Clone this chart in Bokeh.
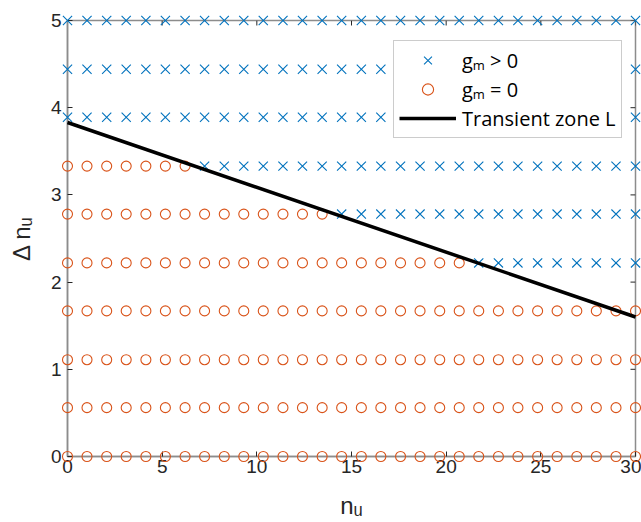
import math
from bokeh.plotting import figure
from bokeh.models import Range1d, Legend, LegendItem, FixedTicker, ColumnDataSource
from bokeh.embed import file_html
from bokeh.resources import INLINE

# grid of n_u values (30 points from 0 to 30)
n_u = [0.0, 1.03, 2.07, 3.10, 4.14, 5.17, 6.21, 7.24, 8.28, 9.31, 10.34, 11.38,
       12.41, 13.45, 14.48, 15.52, 16.55, 17.59, 18.62, 19.66, 20.69, 21.72,
       22.76, 23.79, 24.83, 25.86, 26.90, 27.93, 28.97, 30.0]
# grid of delta n_u values
delta_n_u = [0.0, 0.56, 1.11, 1.67, 2.22, 2.78, 3.33, 3.89, 4.44, 5.0]
# number of points with g_m = 0 in each row (counted from the left)
zero_count_per_row = [30, 30, 30, 30, 21, 14, 7, 0, 0, 0]
# transient zone L line
transient_x = [0, 30]
transient_y = [3.83, 1.6]

x_ticks = [0, 5, 10, 15, 20, 25, 30]
y_ticks = [0, 1, 2, 3, 4, 5]

pos_x, pos_y, zero_x, zero_y = [], [], [], []
for yv, cnt in zip(delta_n_u, zero_count_per_row):
    for i, xv in enumerate(n_u):
        if i < cnt:
            zero_x.append(xv); zero_y.append(yv)
        else:
            pos_x.append(xv); pos_y.append(yv)

AX = "#8c8c8c"
TXT = "#262626"
FONT = "Liberation Sans"

p = figure(width=641, height=522, output_backend="svg", toolbar_location=None,
           x_range=Range1d(0, 30), y_range=Range1d(0, 5),
           min_border_left=67, min_border_right=6, min_border_top=20, min_border_bottom=66)
p.grid.visible = False
p.outline_line_color = AX
p.outline_line_width = 1.5
p.background_fill_color = "white"
p.border_fill_color = "white"

for ax in (p.xaxis[0], p.yaxis[0]):
    ax.axis_line_color = AX
    ax.axis_line_width = 1.5
    ax.major_tick_line_color = TXT
    ax.major_tick_in = 5
    ax.major_tick_out = 0
    ax.minor_tick_line_color = None
    ax.major_label_text_font = FONT
    ax.major_label_text_font_size = "19px"
    ax.major_label_text_color = TXT
    ax.axis_label_text_font = FONT
    ax.axis_label_text_font_size = "24px"
    ax.axis_label_text_font_style = "normal"
    ax.axis_label_text_color = TXT
p.xaxis[0].ticker = FixedTicker(ticks=x_ticks)
p.yaxis[0].ticker = FixedTicker(ticks=y_ticks)
p.xaxis[0].axis_label = "nᵤ"
p.yaxis[0].axis_label = "Δ nᵤ"
p.xaxis[0].major_label_standoff = 3
p.yaxis[0].major_label_standoff = 6
p.xaxis[0].axis_label_standoff = 16
p.yaxis[0].axis_label_standoff = 13

# inward ticks on the top and right edges of the box
p.ray(x=x_ticks, y=[5] * len(x_ticks), length=5, length_units="screen",
      angle=-math.pi / 2, line_color=TXT, line_width=1)
p.ray(x=[30] * len(y_ticks), y=y_ticks, length=5, length_units="screen",
      angle=math.pi, line_color=TXT, line_width=1)

src_pos = ColumnDataSource(dict(x=pos_x, y=pos_y))
src_zero = ColumnDataSource(dict(x=zero_x, y=zero_y))
r_pos = p.scatter("x", "y", source=src_pos, marker="x", size=13,
                  line_color="#0072BD", line_width=1.1)
r_zero = p.scatter("x", "y", source=src_zero, marker="circle", size=10,
                   fill_color=None, line_color="#D95319", line_width=1.1)
r_line = p.line(transient_x, transient_y, line_color="black", line_width=3.5)
for r in (r_pos, r_zero, r_line):
    r.level = "overlay"

legend = Legend(items=[LegendItem(label="gₘ > 0", renderers=[r_pos]),
                       LegendItem(label="gₘ = 0", renderers=[r_zero]),
                       LegendItem(label="Transient zone L", renderers=[r_line])],
                location=(326, 318))
legend.label_text_font = "Open Sans"
legend.label_text_font_size = "20px"
legend.label_text_color = "black"
legend.glyph_width = 57
legend.glyph_height = 28
legend.label_height = 28
legend.label_standoff = 6
legend.padding = 5
legend.spacing = 1
legend.margin = 0
legend.border_line_color = "#9a9a9a"
legend.border_line_width = 1.5
legend.background_fill_color = "white"
legend.background_fill_alpha = 1
p.add_layout(legend)

open("out.html", "w").write(file_html(p, INLINE))
